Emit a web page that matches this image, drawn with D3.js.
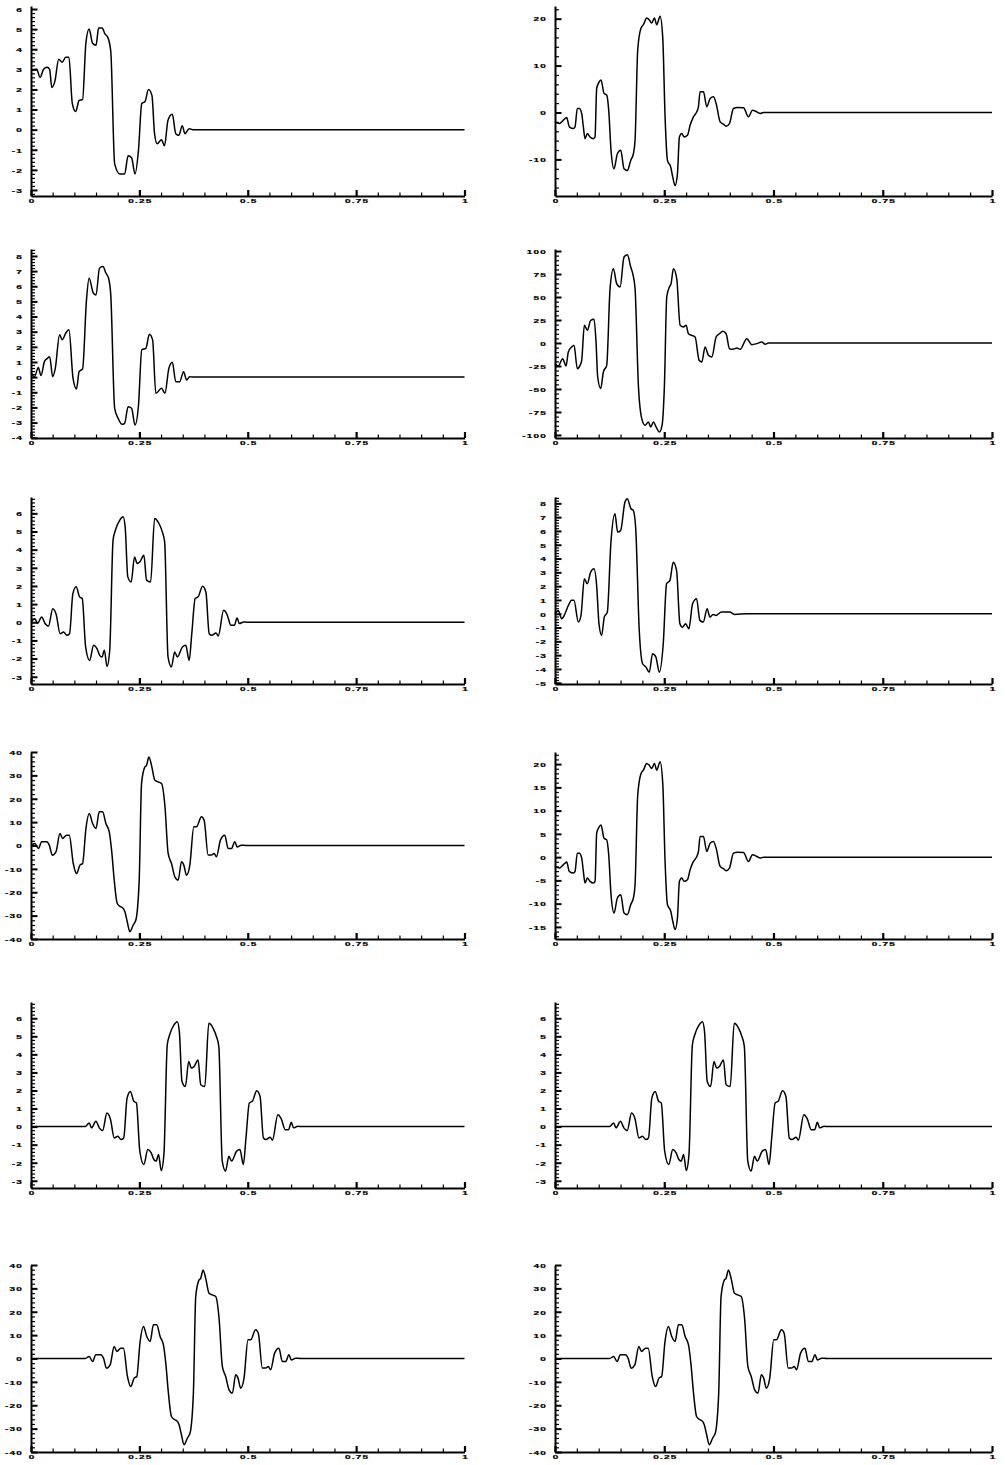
<!DOCTYPE html>
<html>
<head>
<meta charset="utf-8">
<script src="https://cdnjs.cloudflare.com/ajax/libs/d3/7.8.5/d3.min.js"></script>
<style>
body { margin: 0; background: #fff; }
text { font-family: "Liberation Sans", Arial, sans-serif; font-weight: bold; font-size: 10px; letter-spacing: 1.2px; fill: #000; stroke: #000; stroke-width: 0.35px; }
</style>
</head>
<body>
<svg id="chart" width="1005" height="1465"></svg>
<script>
// x axis ticks, shared by all panels
const xTickValues = [0, 0.25, 0.5, 0.75, 1];
const xTickLabels = ["0", "0.25", "0.5", "0.75", "1"];

// curves, [x, y]
const curveA = [[0,2.95],[0.013,3.0],[0.021,2.6],[0.029,3.0],[0.037,3.1],[0.043,3.0],[0.048,2.1],[0.055,2.4],[0.064,3.5],[0.072,3.35],[0.080,3.6],[0.0875,3.6],[0.0953,1.3],[0.103,0.9],[0.111,1.45],[0.119,1.5],[0.1266,4.3],[0.134,5.0],[0.142,4.3],[0.150,4.2],[0.156,5.05],[0.164,5.05],[0.171,4.75],[0.177,4.6],[0.184,3.9],[0.193,-1.7],[0.205,-2.2],[0.216,-2.2],[0.224,-1.3],[0.232,-1.4],[0.240,-2.2],[0.248,-1.0],[0.2555,1.3],[0.263,1.4],[0.271,2.0],[0.279,1.7],[0.285,-0.2],[0.291,-0.7],[0.301,-0.5],[0.308,-0.8],[0.316,0.47],[0.326,0.76],[0.334,-0.2],[0.341,-0.28],[0.349,0.2],[0.355,-0.2],[0.365,0.05],[0.373,0]];

const curveB = [[0,0.3],[0.008,0.03],[0.017,0.63],[0.023,0.1],[0.031,1.02],[0.038,1.24],[0.043,1.35],[0.050,0.03],[0.056,0.58],[0.066,2.79],[0.072,2.46],[0.080,2.9],[0.0875,3.12],[0.097,-0.08],[0.105,-0.78],[0.111,0.36],[0.119,0.54],[0.128,5.1],[0.134,6.53],[0.144,5.54],[0.150,5.43],[0.158,7.19],[0.166,7.3],[0.173,6.86],[0.179,6.53],[0.184,5.43],[0.193,-2.06],[0.201,-2.72],[0.210,-3.12],[0.216,-3.05],[0.224,-1.95],[0.232,-2.06],[0.240,-3.16],[0.248,-1.84],[0.2555,1.8],[0.265,1.9],[0.273,2.83],[0.2805,2.46],[0.288,-1.07],[0.301,-0.74],[0.309,-1.07],[0.318,0.58],[0.326,0.98],[0.334,-0.3],[0.343,-0.3],[0.352,0.36],[0.359,-0.19],[0.366,0.03],[0.373,0]];

const curveC = [[0,0],[0.0093,0.2],[0.0147,-0.07],[0.0247,0.29],[0.0325,-0.07],[0.0402,-0.22],[0.0502,0.75],[0.058,0.44],[0.0672,-0.63],[0.075,-0.53],[0.0827,-0.72],[0.0889,-0.63],[0.0966,1.58],[0.1043,1.95],[0.1121,1.4],[0.1182,1.31],[0.126,-1.36],[0.1352,-2.1],[0.1445,-1.27],[0.1522,-1.45],[0.1584,-1.82],[0.1638,-1.91],[0.1692,-1.54],[0.1754,-2.43],[0.1816,-1.54],[0.1893,4.52],[0.1947,5.07],[0.2048,5.63],[0.2125,5.81],[0.2172,5.26],[0.2233,2.5],[0.2311,2.22],[0.2388,3.6],[0.245,3.24],[0.2512,3.33],[0.2604,3.69],[0.2666,2.32],[0.2759,2.22],[0.2852,5.72],[0.2952,5.44],[0.3029,4.98],[0.3083,4.43],[0.3161,-1.91],[0.3238,-2.46],[0.3315,-1.64],[0.3377,-1.91],[0.3493,-1.36],[0.357,-1.27],[0.3648,-2.1],[0.3709,-0.63],[0.3787,1.31],[0.3856,1.4],[0.3957,1.99],[0.4034,1.67],[0.4111,-0.63],[0.4173,-0.72],[0.4266,-0.59],[0.432,-0.75],[0.4444,0.66],[0.4521,0.44],[0.4614,-0.17],[0.4691,-0.17],[0.4753,0.24],[0.4807,-0.07],[0.4907,0.02],[0.5,0]];

const curveD = [[0,0],[0.0092,0.85],[0.0169,-1.28],[0.0246,1.57],[0.0361,1.57],[0.0422,0.14],[0.0492,-4.13],[0.0576,-2.71],[0.0668,5.13],[0.073,2.99],[0.0822,4.42],[0.0883,4.42],[0.0975,-7.69],[0.1052,-11.97],[0.1129,-8.4],[0.119,-7.69],[0.1267,7.26],[0.1344,13.68],[0.1421,9.4],[0.1498,7.26],[0.1575,14.39],[0.1651,14.39],[0.1728,9.4],[0.1805,5.84],[0.1859,-1.99],[0.192,-14.8],[0.1989,-24.8],[0.2066,-26.2],[0.2112,-26.6],[0.2166,-28.3],[0.222,-32.6],[0.2281,-36.9],[0.2358,-34.0],[0.2419,-31.9],[0.2496,-14.8],[0.255,26.5],[0.2627,33.6],[0.2665,34.3],[0.2719,37.9],[0.278,34.3],[0.2857,27.9],[0.2934,27.2],[0.3011,26.5],[0.3088,17.2],[0.3164,-3.4],[0.3241,-7.7],[0.3318,-13.4],[0.3395,-14.8],[0.3472,-7.0],[0.3525,-8.4],[0.3587,-12.7],[0.3664,-8.4],[0.3756,8.0],[0.3817,8.0],[0.3932,12.3],[0.3994,10.8],[0.4086,-4.1],[0.4163,-4.1],[0.4224,-3.4],[0.4278,-4.8],[0.437,2.3],[0.447,4.4],[0.4547,-1.3],[0.4624,-1.3],[0.47,1.6],[0.4754,-0.6],[0.4854,0.14],[0.4969,0]];

const curveE = [[0,-2.0],[0.0099,-2.36],[0.0153,-2.0],[0.0229,-1.29],[0.0267,-1.07],[0.0328,-3.07],[0.042,-3.43],[0.0458,-3.07],[0.0511,0.86],[0.0557,0.86],[0.0611,-0.21],[0.0649,-3.07],[0.0687,-5.57],[0.074,-4.5],[0.0802,-5.21],[0.0878,-5.57],[0.0916,-5.21],[0.0954,5.14],[0.1015,6.57],[0.1053,6.93],[0.1122,4.07],[0.1183,3.71],[0.1229,0.5],[0.1282,-8.07],[0.1351,-12.0],[0.1427,-8.79],[0.1504,-8.07],[0.158,-12.0],[0.1656,-12.36],[0.1733,-10.21],[0.1794,-8.79],[0.1832,-5.93],[0.1893,13.36],[0.1969,18.0],[0.2023,18.71],[0.2099,20.14],[0.2153,19.79],[0.2214,19.07],[0.2275,20.14],[0.2328,18.71],[0.2405,20.5],[0.2466,15.86],[0.2519,-0.93],[0.2573,-10.21],[0.2649,-11.64],[0.2695,-13.79],[0.2748,-15.57],[0.2802,-13.07],[0.2847,-5.21],[0.2901,-4.5],[0.2954,-5.21],[0.3031,-4.86],[0.3092,-2.71],[0.3168,-0.93],[0.3244,0.14],[0.3282,1.21],[0.3321,4.43],[0.3397,4.43],[0.3473,1.21],[0.355,3.0],[0.3626,3.36],[0.3687,1.93],[0.3779,-2.0],[0.3855,-2.5],[0.3916,-2.93],[0.3992,-2.36],[0.4084,0.86],[0.4176,1.07],[0.4313,1.0],[0.4427,-0.93],[0.4519,0.5],[0.4618,0.14],[0.4695,-0.21],[0.4771,0]];

const curveF = [[0,-22.5],[0.0076,-25],[0.0176,-17],[0.0252,-25],[0.0305,-9.8],[0.0382,-4.3],[0.0435,-2.5],[0.0511,-27.9],[0.0573,-24.3],[0.0611,-18.8],[0.0672,19.2],[0.074,13.8],[0.0817,24.6],[0.0893,25.7],[0.0939,1.1],[0.0977,-37],[0.1046,-49.6],[0.1107,-31.5],[0.1183,-24.3],[0.126,59.1],[0.1336,80.8],[0.1412,64.5],[0.1489,60.9],[0.158,93.5],[0.1656,96.0],[0.1733,82.6],[0.1779,75.4],[0.1832,59.1],[0.1908,-46],[0.1985,-82.2],[0.2061,-89.5],[0.2137,-85.9],[0.2191,-91.3],[0.2252,-85.9],[0.2313,-91.3],[0.2389,-96.7],[0.245,-89.5],[0.2504,-46],[0.2557,50],[0.2618,60.9],[0.2656,64.5],[0.271,80.8],[0.2786,69.9],[0.2863,19.2],[0.2939,17.4],[0.3,19.2],[0.3053,10.1],[0.313,8.3],[0.3206,6.5],[0.3298,-18.8],[0.3359,-20.7],[0.3435,-4.3],[0.3511,-13.4],[0.3588,-15.2],[0.3687,6.5],[0.3763,10.1],[0.384,12.7],[0.3916,10.1],[0.3992,-6.2],[0.4069,-6.9],[0.416,-5.4],[0.4237,-6.9],[0.4389,4.7],[0.4504,-1.8],[0.4618,-0.7],[0.4733,1.1],[0.4809,-1.4],[0.4885,0]];

const curveG = [[0,0],[0.0076,0.24],[0.0152,-0.36],[0.0229,0],[0.0305,0.6],[0.0381,0.97],[0.0434,0.97],[0.0534,-0.6],[0.0595,-0.12],[0.0671,2.54],[0.0739,2.17],[0.0816,3.02],[0.0892,3.26],[0.0953,2.05],[0.1006,-0.72],[0.1067,-1.57],[0.1128,-0.24],[0.1197,0.12],[0.128,5.19],[0.1372,7.25],[0.1433,5.92],[0.1502,6.04],[0.1601,8.09],[0.1654,8.33],[0.1738,7.61],[0.1791,7.49],[0.1845,6.28],[0.1928,-1.21],[0.2005,-3.62],[0.2081,-3.86],[0.2157,-4.23],[0.2233,-2.9],[0.2309,-3.14],[0.2386,-4.23],[0.2477,-2.17],[0.2553,2.17],[0.263,2.42],[0.2706,3.74],[0.2782,3.14],[0.2858,-0.72],[0.2919,-0.97],[0.2988,-0.72],[0.3064,-1.09],[0.3148,0.72],[0.3239,1.09],[0.3316,-0.48],[0.3392,-0.6],[0.3483,0.36],[0.3544,-0.24],[0.362,-0.05],[0.3681,-0.12],[0.3811,0.12],[0.4,0.12],[0.4116,-0.05],[0.4383,0]];

// panel list: curve, x offset of the curve, y range, label step, minor step
const panels = [
  { row: 0, col: 0, curve: curveA, shift: 0,     ymin: -3.3,   ymax: 6.15,  step: 1,  minor: 0.2 },
  { row: 0, col: 1, curve: curveE, shift: 0,     ymin: -17.8,  ymax: 22.7,  step: 10, minor: 2 },
  { row: 1, col: 0, curve: curveB, shift: 0,     ymin: -4.02,  ymax: 8.46,  step: 1,  minor: 0.2 },
  { row: 1, col: 1, curve: curveF, shift: 0,     ymin: -103.3, ymax: 102.2, step: 25, minor: 5 },
  { row: 2, col: 0, curve: curveC, shift: 0,     ymin: -3.4,   ymax: 6.9,   step: 1,  minor: 0.2 },
  { row: 2, col: 1, curve: curveG, shift: 0,     ymin: -5.09,  ymax: 8.46,  step: 1,  minor: 0.2 },
  { row: 3, col: 0, curve: curveD, shift: 0,     ymin: -40,    ymax: 40,    step: 10, minor: 2 },
  { row: 3, col: 1, curve: curveE, shift: 0,     ymin: -17.6,  ymax: 22.6,  step: 5,  minor: 1 },
  { row: 4, col: 0, curve: curveC, shift: 0.125, ymin: -3.4,   ymax: 6.9,   step: 1,  minor: 0.2 },
  { row: 4, col: 1, curve: curveC, shift: 0.125, ymin: -3.4,   ymax: 6.9,   step: 1,  minor: 0.2 },
  { row: 5, col: 0, curve: curveD, shift: 0.125, ymin: -40,    ymax: 40,    step: 10, minor: 2 },
  { row: 5, col: 1, curve: curveD, shift: 0.125, ymin: -40,    ymax: 40,    step: 10, minor: 2 }
];

// layout in pixels
const colX = [[31, 464.5], [555, 992]];
const rowY = [[196, 6], [438, 249], [684, 497], [939, 752], [1188, 1002], [1452, 1265]];

const svg = d3.select("#chart");

function stepValues(lo, hi, s) {
  return d3.range(Math.ceil(lo / s - 1e-9), Math.floor(hi / s + 1e-9) + 1)
    .map(k => Math.round(k * s * 1000) / 1000);
}

panels.forEach(p => {
  const x = d3.scaleLinear().domain([0, 1]).range(colX[p.col]);
  const y = d3.scaleLinear().domain([p.ymin, p.ymax]).range(rowY[p.row]);
  const g = svg.append("g");

  // minor ticks first
  const yMajor = stepValues(p.ymin, p.ymax, p.step);
  const yMinor = stepValues(p.ymin, p.ymax, p.minor)
    .filter(v => Math.abs(v / p.step - Math.round(v / p.step)) > 1e-6);
  const xMinor = d3.range(1, 20).map(k => k * 0.05).filter(v => Math.abs(v * 4 - Math.round(v * 4)) > 1e-6);

  g.append("g")
    .attr("transform", `translate(${colX[p.col][0]},0)`)
    .call(d3.axisLeft(y).tickValues(yMinor).tickSizeInner(-4).tickSizeOuter(0).tickFormat(""))
    .call(a => a.select(".domain").remove())
    .selectAll("line").attr("stroke-width", 1.2);

  g.append("g")
    .attr("transform", `translate(0,${rowY[p.row][0]})`)
    .call(d3.axisBottom(x).tickValues(xMinor).tickSizeInner(-3.5).tickSizeOuter(0).tickFormat(""))
    .call(a => a.select(".domain").remove())
    .selectAll("line").attr("stroke-width", 1.2);

  // major y axis
  const ya = g.append("g")
    .attr("transform", `translate(${colX[p.col][0]},0)`)
    .call(d3.axisLeft(y).tickValues(yMajor).tickSizeInner(-6.5).tickSizeOuter(0).tickFormat(d => String(d)));
  ya.select(".domain").attr("stroke-width", 2);
  ya.selectAll(".tick line").attr("stroke-width", 2);
  ya.selectAll(".tick text")
    .attr("x", 0).attr("dy", null)
    .attr("transform", "translate(-8,2.3) scale(1,0.6)");

  // major x axis
  const xa = g.append("g")
    .attr("transform", `translate(0,${rowY[p.row][0]})`)
    .call(d3.axisBottom(x).tickValues(xTickValues).tickSizeInner(-6).tickSizeOuter(0)
      .tickFormat((d, i) => xTickLabels[i]));
  xa.select(".domain").attr("stroke-width", 2);
  xa.selectAll(".tick line").attr("stroke-width", 2.2);
  xa.selectAll(".tick text")
    .attr("y", 0).attr("dy", null)
    .attr("transform", "translate(0.6,6.6) scale(1,0.6)");

  // curve, flat at zero outside its support
  const pts = p.curve.map(d => [d[0] + p.shift, d[1]]);
  if (pts[0][0] > 0) pts.unshift([0, 0]);
  pts.push([1, pts[pts.length - 1][1]]);

  g.append("path")
    .datum(pts)
    .attr("fill", "none")
    .attr("stroke", "#000")
    .attr("stroke-width", 1.5)
    .attr("stroke-linejoin", "round")
    .attr("d", d3.line().curve(d3.curveMonotoneX).x(d => x(d[0])).y(d => y(d[1])));
});
</script>
</body>
</html>
